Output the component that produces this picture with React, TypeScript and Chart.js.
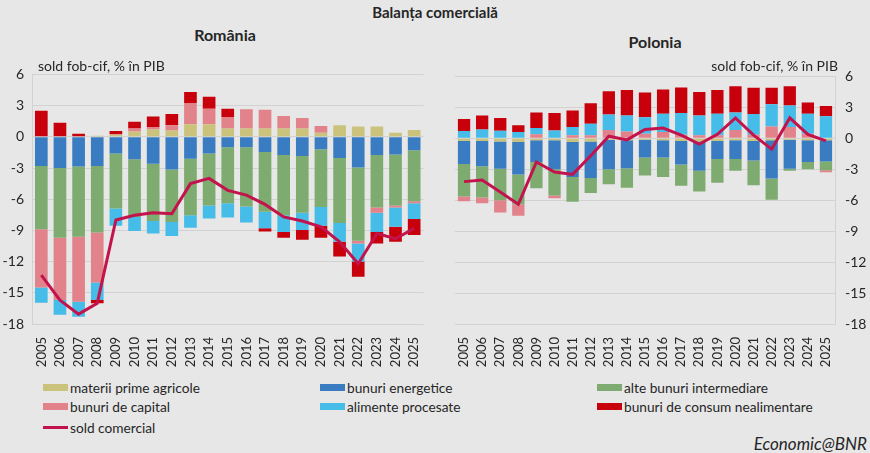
import { useEffect, useRef } from "react";
import Chart from "chart.js/auto";

const FONT = "Lato, 'Open Sans', sans-serif";
const BG = "#e7e7e7";
const GRID = "#d2d2d2";
const TEXT = "#262626";

const years = [
  "2005", "2006", "2007", "2008", "2009", "2010", "2011", "2012", "2013", "2014",
  "2015", "2016", "2017", "2018", "2019", "2020", "2021", "2022", "2023", "2024", "2025",
];

const seriesNames = [
  "materii prime agricole",
  "bunuri energetice",
  "alte bunuri intermediare",
  "bunuri de capital",
  "alimente procesate",
  "bunuri de consum nealimentare",
];
const lineName = "sold comercial";
const seriesColors = ["#cbc27c", "#3a7cc2", "#7eab6f", "#e2828a", "#46bce8", "#c8000b"];
const lineColor = "#c3134c";

// România
const roAgri = [0, 0, 0.05, 0.1, 0.2, 0.5, 0.7, 0.6, 1.2, 1.2, 0.8, 0.8, 0.8, 0.8, 0.8, 0.4, 1.1, 1.0, 1.0, 0.4, 0.65];
const roEnergy = [-2.8, -3.0, -2.85, -2.8, -1.6, -2.15, -2.6, -3.15, -2.1, -1.6, -1.0, -1.0, -1.45, -1.75, -1.85, -1.2, -2.05, -2.95, -1.75, -1.7, -1.3];
const roInter = [-6.1, -6.7, -6.75, -6.4, -5.3, -5.55, -5.5, -5.05, -5.45, -5.0, -5.4, -5.7, -5.75, -5.8, -5.45, -5.55, -6.25, -7.05, -5.05, -4.9, -4.9];
const roCapital = [-5.6, -6.0, -6.25, -4.8, 0.05, 0.3, 0.25, 0.5, 2.05, 1.5, 1.1, 1.85, 1.8, 1.2, 1.0, 0.65, 0, -0.25, -0.5, -0.2, -0.2];
const roFood = [-1.45, -1.4, -1.45, -1.7, -1.65, -1.35, -1.2, -1.35, -1.2, -1.25, -1.35, -1.55, -1.6, -1.6, -1.65, -1.8, -1.8, -1.75, -1.85, -1.85, -1.5];
const roConsumer = [2.5, 1.35, 0.25, -0.3, 0.3, 0.65, 1.0, 1.1, 1.05, 1.15, 0.8, 0, -0.3, -0.55, -0.95, -1.15, -1.4, -1.45, -1.1, -1.45, -1.55];
const roBalance = [-13.3, -15.7, -17.05, -16.0, -8.0, -7.55, -7.3, -7.4, -4.5, -4.0, -5.15, -5.6, -6.5, -7.7, -8.1, -8.65, -10.1, -12.2, -9.3, -9.8, -8.8];

// Polonia
const plAgri = [-0.25, -0.25, -0.3, -0.35, -0.2, -0.2, -0.35, -0.3, -0.15, -0.2, -0.15, -0.2, -0.25, -0.3, -0.25, -0.2, -0.25, -0.2, -0.15, -0.2, -0.2];
const plEnergy = [-2.25, -2.45, -2.65, -3.15, -2.1, -2.8, -3.4, -3.55, -2.85, -2.7, -1.7, -1.65, -2.3, -2.85, -1.75, -1.8, -1.9, -3.7, -2.8, -2.1, -2.05];
const plInter = [-3.15, -3.05, -3.05, -2.9, -2.55, -2.55, -2.4, -1.45, -1.45, -1.9, -1.75, -1.9, -2.05, -2.0, -2.3, -1.15, -2.4, -2.05, -0.2, -0.7, -0.85];
const plCapital = [-0.45, -0.55, -1.2, -1.1, 0.4, -0.25, 0.3, 0.3, 0.8, 0.65, 0.45, 0.6, 0.35, 0.3, 0.3, 0.8, 0.35, 1.15, 1.1, 0.45, -0.2];
const plFood = [0.7, 0.85, 0.73, 0.6, 0.6, 0.76, 0.8, 1.1, 1.5, 1.57, 1.6, 1.78, 2.1, 1.92, 2.08, 1.7, 2.0, 2.15, 2.07, 1.93, 2.13];
const plConsumer = [1.17, 1.35, 1.24, 0.67, 1.5, 1.69, 1.6, 2.0, 2.27, 2.45, 2.39, 2.35, 2.48, 2.28, 2.29, 2.55, 2.54, 1.59, 1.88, 1.08, 1.01];
const plBalance = [-4.2, -4.05, -5.2, -6.4, -2.3, -3.27, -3.5, -1.7, 0.2, -0.15, 0.85, 1.0, 0.3, -0.57, 0.38, 1.97, 0.3, -1.05, 1.97, 0.38, -0.25];

const yMin = -18;
const yMax = 6;
const yStep = 3;

interface PanelProps {
  bars: number[][];
  balance: number[];
  side: "left" | "right";
}

function BalancePanel({ bars, balance, side }: PanelProps) {
  const canvasRef = useRef<HTMLCanvasElement>(null);

  useEffect(() => {
    if (!canvasRef.current) return;
    const left = side === "left";
    const chart = new Chart(canvasRef.current, {
      type: "bar",
      data: {
        labels: years,
        datasets: [
          {
            type: "line",
            label: lineName,
            data: balance,
            borderColor: lineColor,
            backgroundColor: lineColor,
            borderWidth: 3,
            pointRadius: 0,
            tension: 0,
            stack: "line",
            order: 0,
          } as any,
          ...bars.map((values, i) => ({
            type: "bar" as const,
            label: seriesNames[i],
            data: values,
            backgroundColor: seriesColors[i],
            borderWidth: 0,
            stack: "bars",
            order: 1,
            barPercentage: 0.68,
            categoryPercentage: 1,
          })),
        ],
      },
      options: {
        responsive: false,
        animation: false,
        layout: { padding: left ? { top: 0, right: 10 } : { top: 0, left: 15 } },
        plugins: { legend: { display: false }, tooltip: { enabled: false } },
        scales: {
          x: {
            stacked: true,
            grid: { display: false },
            border: { display: false },
            ticks: {
              minRotation: 90,
              maxRotation: 90,
              autoSkip: false,
              color: TEXT,
              padding: 5,
              font: { family: FONT, size: 13 },
            },
            afterFit: (s: any) => {
              s.height = 48;
            },
          },
          y: {
            stacked: true,
            position: left ? "left" : "right",
            min: yMin,
            max: yMax,
            ticks: {
              stepSize: yStep,
              color: TEXT,
              padding: left ? 8 : 10,
              font: { family: FONT, size: 14 },
            },
            grid: { color: GRID, drawTicks: false },
            border: { color: GRID },
            afterFit: (s: any) => {
              s.width = left ? 32 : 35;
            },
          },
        },
      },
    });
    return () => chart.destroy();
  }, [bars, balance, side]);

  return <canvas ref={canvasRef} width={side === "left" ? 435 : 430} height={314} />;
}

const legendLeft = [43, 320, 597];
const legendTop = [379, 398, 419];

export default function App() {
  const abs = (x: number, y: number): React.CSSProperties => ({ position: "absolute", left: x, top: y });
  return (
    <div
      style={{
        position: "absolute",
        left: 0,
        top: 0,
        width: 870,
        height: 453,
        background: BG,
        fontFamily: FONT,
        color: TEXT,
        overflow: "hidden",
      }}
    >
      <div style={{ ...abs(0, 58) }}>
        <BalancePanel
          bars={[roAgri, roEnergy, roInter, roCapital, roFood, roConsumer]}
          balance={roBalance}
          side="left"
        />
      </div>
      <div style={{ ...abs(440, 58) }}>
        <BalancePanel
          bars={[plAgri, plEnergy, plInter, plCapital, plFood, plConsumer]}
          balance={plBalance}
          side="right"
        />
      </div>

      <div style={{ ...abs(0, 3), width: 870, textAlign: "center", fontWeight: 700, fontSize: 15 }}>
        Balanța comercială
      </div>
      <div style={{ ...abs(125, 25), width: 200, textAlign: "center", fontWeight: 700, fontSize: 16 }}>
        România
      </div>
      <div style={{ ...abs(555, 32), width: 200, textAlign: "center", fontWeight: 700, fontSize: 16 }}>
        Polonia
      </div>
      <div style={{ ...abs(38, 57), fontSize: 14 }}>sold fob-cif, % în PIB</div>
      <div style={{ ...abs(638, 57), width: 200, textAlign: "right", fontSize: 14 }}>sold fob-cif, % în PIB</div>

      {seriesNames.map((name, i) => (
        <div
          key={name}
          style={{ ...abs(legendLeft[i % 3], legendTop[Math.floor(i / 3)]), display: "flex", alignItems: "center", fontSize: 13.7, whiteSpace: "nowrap" }}
        >
          <span style={{ display: "inline-block", width: 25, height: 7, background: seriesColors[i], marginRight: 2 }} />
          {name}
        </div>
      ))}
      <div style={{ ...abs(legendLeft[0], legendTop[2]), display: "flex", alignItems: "center", fontSize: 13.7 }}>
        <span style={{ display: "inline-block", width: 25, height: 3, background: lineColor, marginRight: 2 }} />
        {lineName}
      </div>

      <div style={{ ...abs(640, 433), width: 227, textAlign: "right", fontSize: 17, fontStyle: "italic" }}>
        Economic@BNR
      </div>
    </div>
  );
}
